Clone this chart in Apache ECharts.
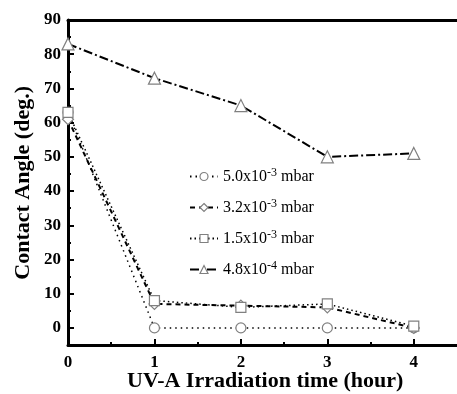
<!DOCTYPE html>
<html><head><meta charset="utf-8">
<script src="https://cdn.jsdelivr.net/npm/echarts@6/dist/echarts.min.js"></script>
<style>html,body{margin:0;padding:0;background:#fff}#c{width:457px;height:394px}</style>
</head><body><div id="c"></div>
<script>
var hours = [0, 1, 2, 3, 4];
var seriesNames = ['5.0x10{sup|-3} mbar', '3.2x10{sup|-3} mbar', '1.5x10{sup|-3} mbar', '4.8x10{sup|-4} mbar'];
var s50e3 = [63, 0, 0, 0, 0];
var s32e3 = [61, 7, 6.5, 6, 0];
var s15e3 = [63, 8, 6, 7, 0.5];
var s48e4 = [83, 73, 65, 50, 51];
var yTicks = [0, 10, 20, 30, 40, 50, 60, 70, 80, 90];
var xTicks = [0, 1, 2, 3, 4];
var xMinor = [0.5, 1.5, 2.5, 3.5];

var FONT = '"Liberation Serif", "DejaVu Serif", serif';
var chart = echarts.init(document.getElementById('c'));
function mk(name, data, symbol, size, ltype, lw) {
  return {
    type: 'line', name: name,
    data: hours.map(function (h, i) { return [h, data[i]]; }),
    symbol: symbol, symbolSize: size,
    lineStyle: { color: '#000', width: lw, type: ltype },
    itemStyle: { color: '#fff', borderColor: '#808080', borderWidth: 1.2 },
    z: 3
  };
}
var hidden = { show: false };
chart.setOption({
  animation: false,
  grid: { left: 68, top: 20, right: -9, bottom: 49 },
  xAxis: [{
    type: 'value', min: 0, max: 4.5, interval: 1,
    axisLine: { onZero: false, lineStyle: { color: '#000', width: 3 } },
    axisTick: { inside: true, length: 6, customValues: xTicks, lineStyle: { color: '#000', width: 2 } },
    splitLine: hidden,
    axisLabel: { margin: 9, color: '#000', fontFamily: FONT, fontWeight: 'bold', fontSize: 17, customValues: xTicks }
  }, {
    type: 'value', position: 'top', min: 0, max: 4.5,
    axisLine: { show: true, onZero: false, lineStyle: { color: '#000', width: 3 } },
    axisTick: hidden, axisLabel: hidden, splitLine: hidden
  }, {
    type: 'value', position: 'bottom', offset: 0, min: 0, max: 4.5,
    axisLine: { show: false, onZero: false },
    axisTick: { inside: true, length: 3, customValues: xMinor, lineStyle: { color: '#000', width: 2 } },
    axisLabel: hidden, splitLine: hidden
  }],
  yAxis: [{
    type: 'value', min: -5, max: 90, interval: 5,
    axisLine: { onZero: false, lineStyle: { color: '#000', width: 3 } },
    axisTick: { inside: true, length: 6, customValues: yTicks, lineStyle: { color: '#000', width: 2 } },
    splitLine: hidden,
    axisLabel: { margin: 7, color: '#000', fontFamily: FONT, fontWeight: 'bold', fontSize: 17, customValues: yTicks }
  }, {
    type: 'value', position: 'left', offset: 0, min: -5, max: 90, interval: 5,
    axisLine: { show: false, onZero: false },
    axisTick: { inside: true, length: 3, lineStyle: { color: '#000', width: 2 } },
    axisLabel: hidden, splitLine: hidden
  }],
  legend: {
    orient: 'vertical', left: 184, top: 162, itemGap: 10, itemWidth: 28, itemHeight: 10,
    data: seriesNames,
    itemStyle: { color: '#fff', borderColor: '#808080', borderWidth: 1.2 },
    textStyle: { color: '#000', fontFamily: FONT, fontSize: 16, lineHeight: 19,
      rich: { sup: { fontFamily: FONT, fontSize: 12, lineHeight: 12, verticalAlign: 'top', padding: [0, 0, 9, 0] } } }
  },
  graphic: [
    { type: 'text', left: 127, top: 370, style: { text: 'UV-A Irradiation time (hour)', font: 'bold 22px ' + FONT, fill: '#000' } },
    { type: 'text', rotation: Math.PI / 2, left: 12, top: 86, style: { text: 'Contact Angle (deg.)', font: 'bold 22px ' + FONT, fill: '#000' } }
  ],
  series: [
    mk(seriesNames[0], s50e3, 'circle', 10, [1.5, 4], 1.5),
    mk(seriesNames[1], s32e3, 'diamond', 11, [5, 4], 2),
    mk(seriesNames[2], s15e3, 'rect', 10, [1.5, 3], 1.5),
    mk(seriesNames[3], s48e4, 'triangle', 12, [9, 3, 2, 3], 2)
  ]
});
</script></body></html>
